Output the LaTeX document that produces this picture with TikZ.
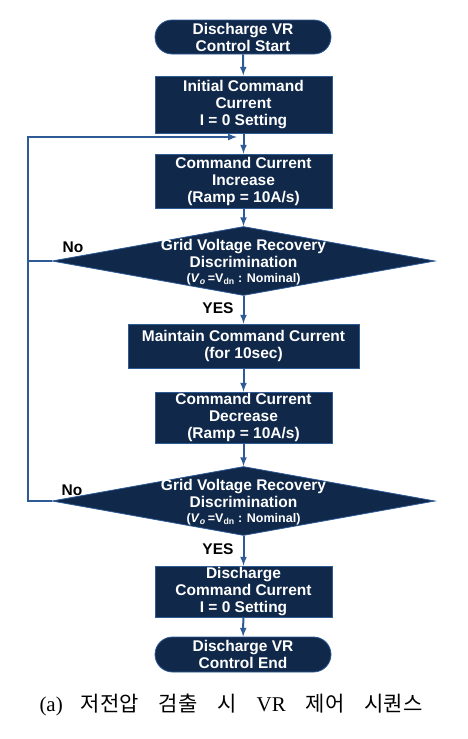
\documentclass[tikz,border=0pt]{standalone}
\usepackage{fontspec}
\setmainfont{Liberation Sans}
\newfontfamily\capfont{Liberation Serif}
\newfontfamily\cjk{Noto Sans CJK KR}
\usetikzlibrary{arrows.meta, shapes.geometric, shapes.misc, positioning}
\definecolor{navy}{HTML}{10284A}
\definecolor{linkblue}{HTML}{2E5A96}

\begin{document}
\begin{tikzpicture}[x=1pt, y=-1pt, font=\bfseries\fontsize{15.5}{17}\selectfont]
			\tikzstyle{every node}=[text=white, align=center]
			\tikzstyle{process}=[rectangle, fill=navy, draw=linkblue, line width=0.8pt, inner sep=0pt]
			\tikzstyle{terminal}=[rounded rectangle, fill=navy, draw=linkblue, line width=0.8pt, inner sep=0pt, minimum width=176pt, minimum height=34pt]
			\tikzstyle{decision}=[diamond, fill=navy, draw=linkblue, line width=0.8pt, inner sep=0pt, minimum width=383pt, minimum height=69pt]
			\tikzstyle{tag}=[text=black]
			\tikzstyle{flow}=[draw=linkblue, line width=2pt]
			\useasboundingbox (0,0) rectangle (467,739);
			
			% Blocks of the sequence
			\node[terminal] (start) at (243, 37) {Discharge VR\\Control Start};
			\node[process, minimum width=177pt, minimum height=57pt] (init) at (243.5, 104.5) {Initial Command\\Current\\I = 0 Setting};
			\node[process, minimum width=177pt, minimum height=54pt] (ramp) at (243.5, 181) {Command Current\\Increase\\(Ramp = 10A/s)};
			\node[decision] (chk1) at (243.5, 261) {};
			\node (chk1t) at (243.5, 262) {Grid Voltage Recovery\\Discrimination\\[-2pt]{\fontsize{12.5}{13}\selectfont(\textit{V}\textsubscript{\textit{o}}\,=V\textsubscript{dn} : Nominal)}};
			\node[process, minimum width=231pt, minimum height=44pt] (hold) at (243.5, 346) {Maintain Command Current\\(for 10sec)};
			\node[process, minimum width=177pt, minimum height=51pt] (down) at (243.5, 417.5) {Command Current\\Decrease\\(Ramp = 10A/s)};
			\node[decision] (chk2) at (243.5, 501) {};
			\node (chk2t) at (243.5, 502) {Grid Voltage Recovery\\Discrimination\\[-2pt]{\fontsize{12.5}{13}\selectfont(\textit{V}\textsubscript{\textit{o}}\,=V\textsubscript{dn} : Nominal)}};
			\node[process, minimum width=177pt, minimum height=51pt] (reset) at (243.5, 591.5) {Discharge\\Command Current\\I = 0 Setting};
			\node[terminal, minimum height=35pt] (stop) at (243, 654.5) {Discharge VR\\Control End};
			
			% Branch labels
			\node[tag] (no1) at (73, 247) {No};
			\node[tag] (no2) at (72, 490) {No};
			\node[tag] (yes1) at (218, 308) {YES};
			\node[tag] (yes2) at (218, 549) {YES};
			\coordinate (loopin) at (237, 137);
			
			% Connectors
			\draw[flow, -latex] (start) -- (init);
			\draw[flow, -latex] (init) -- (ramp);
			\draw[flow, -latex] (ramp) -- (chk1);
			\draw[flow, -latex] (chk1) -- (hold);
			\draw[flow, -latex] (hold) -- (down);
			\draw[flow, -latex] (down) -- (chk2);
			\draw[flow, -latex] (chk2) -- (reset);
			\draw[flow, -latex] (reset) -- (stop);
			\draw[flow] (chk1.west) -- (28, 261);
			\draw[flow, -latex] (chk2.west) -- (28, 501) |- (loopin);
			
			% Caption
			\node[text=black, font=\fontsize{21}{24}\selectfont] (caption) at (231, 705) {\capfont (a)\hspace{18pt}\cjk 저전압\hspace{20pt}검출\hspace{20pt}시\hspace{20pt}\capfont VR\hspace{20pt}\cjk 제어\hspace{20pt}시퀀스};
\end{tikzpicture}
\end{document}
